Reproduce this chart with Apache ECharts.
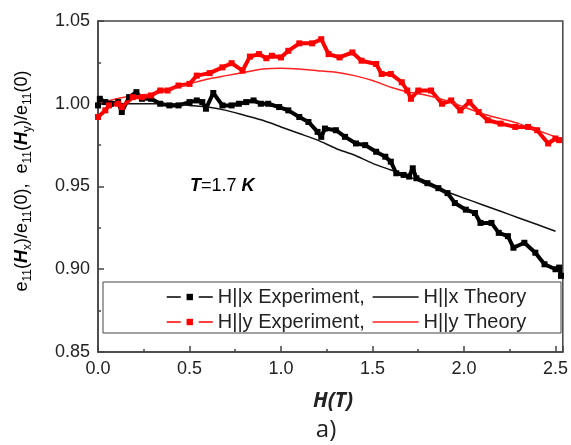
<!DOCTYPE html>
<html>
<head>
<meta charset="utf-8">
<script src="https://cdn.jsdelivr.net/npm/echarts@6/dist/echarts.min.js"></script>
<style>
  html, body { margin: 0; padding: 0; background: #fff; }
  #main { width: 571px; height: 445px; }
</style>
</head>
<body>
<div id="main"></div>
<script>
// field H (T) and e11 ratio
var hxExp = [0.00, 0.01, 0.04, 0.07, 0.11, 0.13, 0.17, 0.21, 0.24, 0.29, 0.34, 0.39, 0.44, 0.50, 0.54, 0.57, 0.59, 0.63, 0.68, 0.73,
             0.77, 0.81, 0.85, 0.89, 0.93, 0.99, 1.04, 1.10, 1.15, 1.20, 1.22, 1.24, 1.30, 1.35, 1.41, 1.46, 1.52, 1.57, 1.60, 1.63,
             1.67, 1.70, 1.72, 1.74, 1.80, 1.86, 1.91, 1.95, 2.01, 2.06, 2.09, 2.15, 2.19, 2.24, 2.27, 2.33, 2.39, 2.44, 2.50, 2.52, 2.53];
var vxExp = [0.999, 1.003, 1.001, 1.000, 1.001, 0.995, 1.004, 1.007, 1.003, 1.003, 1.000, 0.999, 0.999, 1.001, 1.002, 1.001, 0.997, 1.0065, 0.999, 0.999,
             1.000, 1.001, 1.002, 1.000, 1.000, 0.998, 0.996, 0.992, 0.989, 0.983, 0.980, 0.985, 0.984, 0.980, 0.976, 0.975, 0.971, 0.968, 0.965, 0.958,
             0.957, 0.956, 0.961, 0.955, 0.952, 0.949, 0.946, 0.940, 0.936, 0.934, 0.928, 0.928, 0.922, 0.920, 0.913, 0.916, 0.910, 0.903, 0.900, 0.901, 0.896];

var hyExp = [0.00, 0.04, 0.06, 0.11, 0.13, 0.19, 0.24, 0.29, 0.34, 0.38, 0.44, 0.50, 0.54, 0.61, 0.68, 0.73, 0.79, 0.83, 0.88, 0.92,
             0.95, 1.00, 1.04, 1.10, 1.17, 1.22, 1.26, 1.32, 1.39, 1.44, 1.52, 1.55, 1.60, 1.66, 1.69, 1.71, 1.75, 1.82, 1.88, 1.93,
             1.98, 2.03, 2.08, 2.13, 2.20, 2.28, 2.35, 2.40, 2.46, 2.50, 2.52];
var vyExp = [0.992, 0.996, 0.999, 1.000, 0.998, 1.004, 1.004, 1.005, 1.008, 1.008, 1.011, 1.012, 1.017, 1.0185, 1.022, 1.0245, 1.020, 1.0285, 1.030, 1.0275,
             1.029, 1.028, 1.032, 1.0365, 1.0365, 1.039, 1.030, 1.028, 1.031, 1.026, 1.024, 1.018, 1.018, 1.013, 1.008, 1.003, 1.008, 1.008, 1.000, 1.002,
             0.996, 1.001, 0.995, 0.990, 0.988, 0.986, 0.986, 0.984, 0.976, 0.979, 0.978];

var hTheory = [0.0, 0.1, 0.2, 0.3, 0.4, 0.5, 0.6, 0.7, 0.8, 0.9, 1.0, 1.1, 1.2, 1.3, 1.4, 1.5, 1.6, 1.7, 1.8, 1.9, 2.0, 2.1, 2.2, 2.3, 2.4, 2.5];
var vxTheory = [1.000, 1.000, 1.000, 1.000, 1.000, 0.999, 0.998, 0.996, 0.993, 0.990, 0.986, 0.982, 0.978, 0.973, 0.969, 0.964, 0.960, 0.956, 0.951, 0.947,
                0.943, 0.939, 0.935, 0.931, 0.927, 0.923];
var vyTheory = [1.000, 1.003, 1.005, 1.006, 1.009, 1.012, 1.015, 1.017, 1.019, 1.021, 1.0215, 1.021, 1.020, 1.019, 1.017, 1.014, 1.010, 1.007, 1.005, 1.002,
                0.998, 0.994, 0.991, 0.988, 0.984, 0.980];

function pairs(xs, ys) {
  return xs.map(function (x, i) { return [x, ys[i]]; });
}

var myChart = echarts.init(document.getElementById('main'));

var tickFont = { fontFamily: 'Liberation Sans', fontSize: 18, color: '#222' };
var sub = { fontFamily: 'Liberation Sans', fontSize: 12, lineHeight: 12, verticalAlign: 'bottom', color: '#222' };
var nrm = { fontFamily: 'Liberation Sans', fontSize: 18, lineHeight: 24, verticalAlign: 'middle', color: '#222' };
var bi = { fontFamily: 'Liberation Sans', fontSize: 18, lineHeight: 24, verticalAlign: 'middle', fontWeight: 'bold', fontStyle: 'italic', color: '#222' };

// legend rows: experiment icon "— ■ —", theory icon a plain line
function legendRow(top, exp, theo) {
  return {
    orient: 'horizontal',
    padding: 0,
    top: top,
    left: 166,
    itemWidth: 46,
    itemHeight: 8,
    itemGap: 7,
    textStyle: { fontFamily: 'Liberation Sans', fontSize: 20, color: '#222' },
    formatter: function (name) {
      return name.indexOf('Experiment') >= 0 ? name + ',' : name;
    },
    data: [
      { name: exp, lineStyle: { width: 1.5, type: [14, 18] } },
      { name: theo, lineStyle: { width: 1.5 }, itemStyle: { opacity: 0 } }
    ]
  };
}

myChart.setOption({
  backgroundColor: '#fff',
  animation: false,
  grid: { left: 98, right: 6, top: 21, bottom: 93, show: true, borderColor: '#444', borderWidth: 1.5 },
  legend: [
    legendRow(287, 'H||x Experiment', 'H||x Theory'),
    legendRow(312, 'H||y Experiment', 'H||y Theory')
  ],
  xAxis: {
    type: 'value',
    min: 0,
    max: 2.54,
    interval: 0.5,
    splitLine: { show: false },
    axisLine: { lineStyle: { color: '#444', width: 1.5 } },
    axisTick: { inside: true, length: 6, lineStyle: { color: '#444', width: 1.5 } },
    minorTick: { show: true, splitNumber: 2, length: 3, lineStyle: { color: '#444', width: 1.5 } },
    axisLabel: Object.assign({ margin: 8, showMaxLabel: false, formatter: function (v) { return v.toFixed(1); } }, tickFont)
  },
  yAxis: {
    type: 'value',
    min: 0.85,
    max: 1.05,
    interval: 0.05,
    splitLine: { show: false },
    axisLine: { lineStyle: { color: '#444', width: 1.5 } },
    axisTick: { inside: true, length: 6, lineStyle: { color: '#444', width: 1.5 } },
    minorTick: { show: true, splitNumber: 2, length: 3, lineStyle: { color: '#444', width: 1.5 } },
    axisLabel: Object.assign({ margin: 8, formatter: function (v) { return v.toFixed(2); } }, tickFont)
  },
  graphic: [
    { type: 'rect', z: 5, shape: { x: 103, y: 282, width: 458, height: 51 },
      style: { fill: 'rgba(255,255,255,0)', stroke: '#444', lineWidth: 1 } },
    { type: 'text', x: 22, y: 181, rotation: Math.PI / 2,
      style: {
        text: '{n|e}{s|11}{n|(}{b|H}{s|x}{n|)/e}{s|11}{n|(0),  e}{s|11}{n|(}{b|H}{s|y}{n|)/e}{s|11}{n|(0)}',
        align: 'center', verticalAlign: 'middle',
        rich: { n: nrm, s: sub, b: bi }
      } },
    { type: 'text', x: 190, y: 186,
      style: {
        text: '{b|T}{n|=1.7 }{b|K}',
        align: 'left', verticalAlign: 'middle',
        rich: { n: nrm, b: bi }
      } },
    { type: 'text', x: 333, y: 401,
      style: { text: 'H(T)', align: 'center', verticalAlign: 'middle',
        fontFamily: 'Open Sans', fontSize: 21, fontWeight: 'bold', fontStyle: 'italic', fill: '#222' } },
    { type: 'text', x: 326, y: 430,
      style: { text: 'a)', align: 'center', verticalAlign: 'middle',
        fontFamily: 'Open Sans', fontSize: 24, fill: '#222' } }
  ],
  series: [
    {
      name: 'H||x Experiment', type: 'line', data: pairs(hxExp, vxExp),
      symbol: 'rect', symbolSize: 6, color: '#000',
      lineStyle: { color: '#000', width: 4 }, itemStyle: { color: '#000' }
    },
    {
      name: 'H||x Theory', type: 'line', data: pairs(hTheory, vxTheory),
      symbol: 'none', smooth: 0.2, color: '#111',
      lineStyle: { color: '#111', width: 1.5 }
    },
    {
      name: 'H||y Experiment', type: 'line', data: pairs(hyExp, vyExp),
      symbol: 'rect', symbolSize: 6, color: '#ff0000',
      lineStyle: { color: '#ff0000', width: 4 }, itemStyle: { color: '#ff0000' }
    },
    {
      name: 'H||y Theory', type: 'line', data: pairs(hTheory, vyTheory),
      symbol: 'none', smooth: 0.2, color: '#ff2020',
      lineStyle: { color: '#ff2020', width: 1.5 }
    }
  ]
});
</script>
</body>
</html>
